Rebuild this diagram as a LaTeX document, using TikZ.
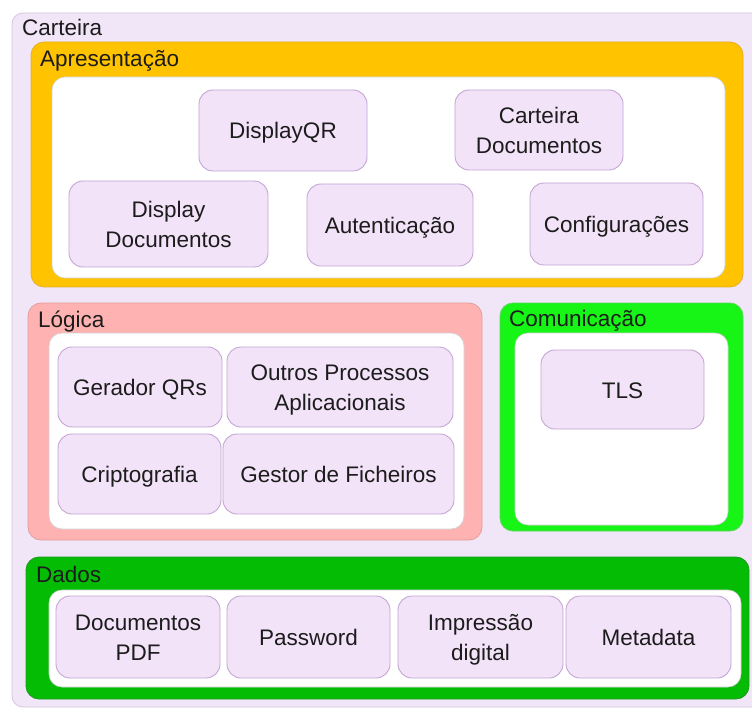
\documentclass[tikz,border=0pt]{standalone}
\usepackage{fontspec}
\setmainfont{Liberation Sans}
\definecolor{bgLav}{HTML}{F1E6F7}
\definecolor{bgLavLine}{HTML}{D6C6DE}
\definecolor{itemFill}{HTML}{F2E3F8}
\definecolor{itemLine}{HTML}{C4A6D4}
\definecolor{presOrange}{HTML}{FFC300}
\definecolor{presLine}{HTML}{E6AE2A}
\definecolor{logPink}{HTML}{FFB2B2}
\definecolor{logLine}{HTML}{E59C9C}
\definecolor{comGreen}{HTML}{16F516}
\definecolor{comLine}{HTML}{5FD35F}
\definecolor{datGreen}{HTML}{04BC04}
\definecolor{datLine}{HTML}{1F9A1F}
\definecolor{ink}{HTML}{1C1C1C}
% centred text block, set a little below the box centre
\newcommand\boxtext[1]{\raisebox{-2.5pt}[\height][\depth]{\begin{tabular}{@{}c@{}}#1\end{tabular}}}
\tikzset{
  layer/.style={draw=#1, line width=0.8pt, rounded corners=13pt},
  inner/.style={fill=white, draw=black!18, line width=0.6pt, rounded corners=13pt},
  item/.style={draw=itemLine, fill=itemFill, line width=0.9pt, rounded corners=14pt,
    text=ink, inner sep=2pt,
    font=\fontsize{22.5}{30}\selectfont},
  title/.style={anchor=base west, inner sep=0pt, text=ink,
    font=\fontsize{22.5}{27}\selectfont},
}
\begin{document}
\begin{tikzpicture}[x=1pt,y=-1pt]
\useasboundingbox (0,0) rectangle (752,711);
\clip (0,0) rectangle (752,711);
\fill[white] (0,0) rectangle (752,711);

% outer container
\draw[fill=bgLav, draw=bgLavLine, line width=0.8pt, rounded corners=11pt] (12,13) rectangle (775,707);
\node[title] (carteira) at (22,36) {Carteira};

% presentation layer
\draw[layer=presLine, fill=presOrange] (31,42) rectangle (743,287);
\draw[inner] (52,77) rectangle (725,278);
\node[title] (apres) at (40,67) {Apresentação};
\node[item, minimum width=168pt, minimum height=81pt] (dqr) at (283,130.5) {\boxtext{DisplayQR}};
\node[item, minimum width=168pt, minimum height=80pt] (cdoc) at (539,130) {\boxtext{Carteira\\Documentos}};
\node[item, minimum width=199pt, minimum height=86pt] (ddoc) at (168.5,224) {\boxtext{Display\\Documentos}};
\node[item, minimum width=166pt, minimum height=82pt] (aut) at (390,225) {\boxtext{Autenticação}};
\node[item, minimum width=173pt, minimum height=82pt] (conf) at (616.5,224) {\boxtext{Configurações}};

% logic layer
\draw[layer=logLine, fill=logPink] (28,303) rectangle (482,540);
\draw[inner] (49,333) rectangle (464,529);
\node[title] (logica) at (38,327) {Lógica};
\node[item, minimum width=164pt, minimum height=80pt] (gqr) at (140,387) {\boxtext{Gerador QRs}};
\node[item, minimum width=226pt, minimum height=80pt] (outros) at (340,387) {\boxtext{Outros Processos\\Aplicacionais}};
\node[item, minimum width=163pt, minimum height=80pt] (cripto) at (139.5,474) {\boxtext{Criptografia}};
\node[item, minimum width=231pt, minimum height=80pt] (gestor) at (338.5,474) {\boxtext{Gestor de Ficheiros}};

% communication layer
\draw[layer=comLine, fill=comGreen] (500,303) rectangle (743,531);
\draw[inner] (515,333) rectangle (728,525);
\node[title] (comun) at (509,326) {Comunicação};
\node[item, minimum width=163pt, minimum height=79pt] (tls) at (622.5,389.5) {\boxtext{TLS}};

% data layer
\draw[layer=datLine, fill=datGreen] (26,557) rectangle (749,699);
\draw[inner] (49,590) rectangle (741,687);
\node[title] (dados) at (36,582) {Dados};
\node[item, minimum width=164pt, minimum height=82pt] (pdf) at (138,637) {\boxtext{Documentos\\PDF}};
\node[item, minimum width=163pt, minimum height=82pt] (pwd) at (308.5,637) {\boxtext{Password}};
\node[item, minimum width=165pt, minimum height=82pt] (impr) at (480.5,637) {\boxtext{Impressão\\digital}};
\node[item, minimum width=165pt, minimum height=82pt] (meta) at (648.5,637) {\boxtext{Metadata}};
\end{tikzpicture}
\end{document}
